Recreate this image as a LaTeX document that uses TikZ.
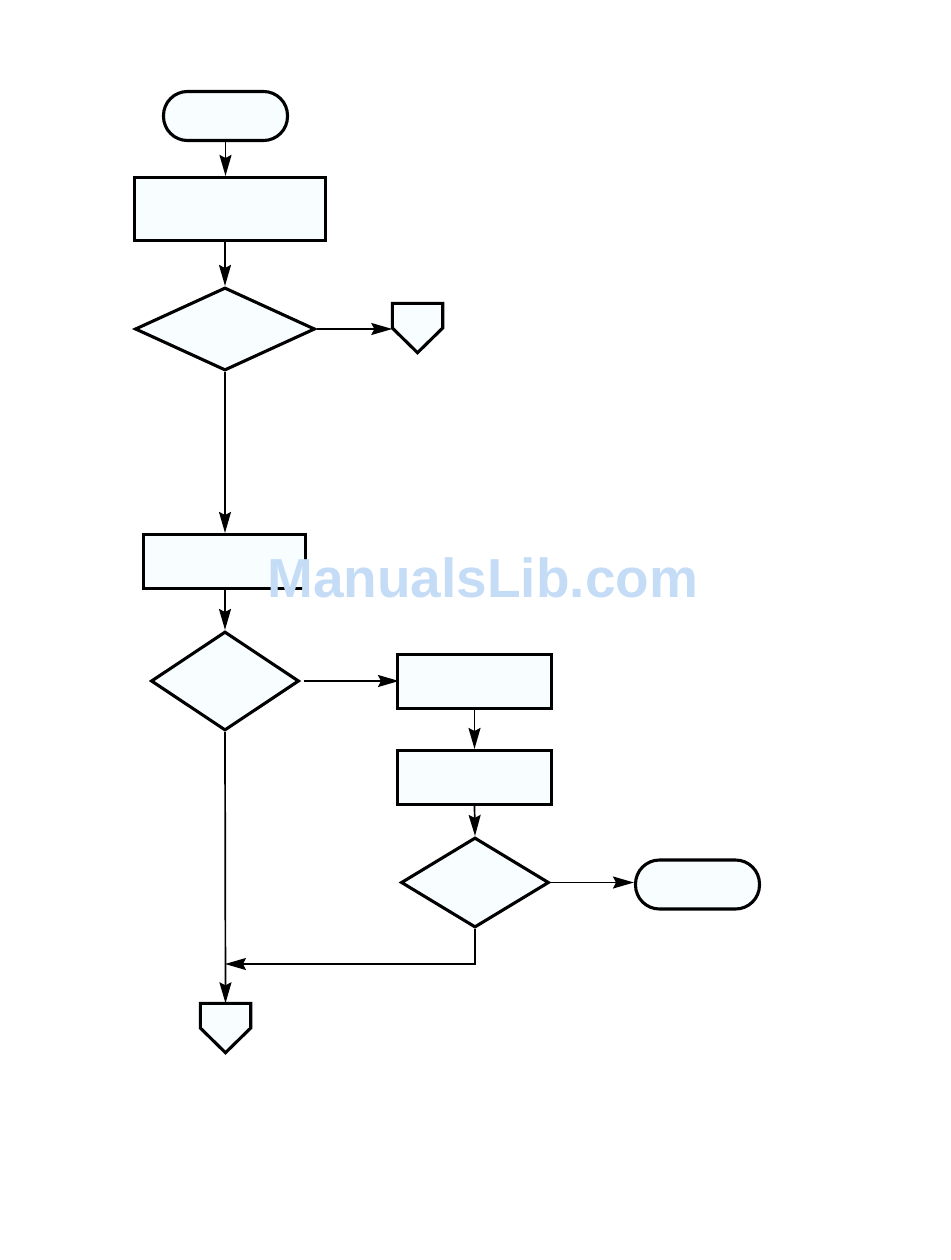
\documentclass[tikz,border=0pt]{standalone}
\usepackage{fontspec}
\setsansfont{Liberation Sans}
\usetikzlibrary{shapes.geometric,arrows.meta}
\definecolor{shapefill}{RGB}{248,253,255}
\definecolor{wmark}{RGB}{197,220,246}
\tikzset{
  shapeline/.style={draw=black,line width=3.1pt,fill=shapefill,line join=miter},
  procbox/.style={shapeline,rectangle,inner sep=0pt},
  termbox/.style={shapeline,rectangle,rounded corners=24pt,inner sep=0pt,minimum width=124,minimum height=49},
  decbox/.style={shapeline,diamond,inner sep=0pt},
  offref/.style={inner sep=0pt,minimum width=50,minimum height=49},
  flow/.style={draw=black,line width=1.7pt,-{Stealth[length=21pt,width=12pt,inset=3pt]}},
  plainflow/.style={draw=black,line width=1.7pt}
}
\begin{document}
\begin{tikzpicture}[x=1pt,y=-1pt]
\useasboundingbox (0,0) rectangle (950,1260);
% nodes
\node[termbox] (start) at (225.5,116) {};
\node[procbox,minimum width=191,minimum height=63] (b1) at (230,209) {};
\node[decbox,minimum width=180,minimum height=83] (d1) at (225,329) {};
\node[offref] (o1) at (417.5,328) {};
\draw[shapeline] (o1.north west) -- (o1.north east) -- (o1.east) -- (o1.south) -- (o1.west) -- cycle;
\node[procbox,minimum width=162,minimum height=54] (b2) at (224.5,561.5) {};
\node[decbox,minimum width=148,minimum height=99] (d2) at (225,681) {};
\node[procbox,minimum width=154,minimum height=54] (b3) at (474.5,681.5) {};
\node[procbox,minimum width=154,minimum height=54] (b4) at (474.5,777.5) {};
\node[decbox,minimum width=148,minimum height=90] (d3) at (475,882.5) {};
\node[termbox] (stop) at (697.5,884.5) {};
\node[offref] (o2) at (225.5,1028) {};
\draw[shapeline] (o2.north west) -- (o2.north east) -- (o2.east) -- (o2.south) -- (o2.west) -- cycle;
\coordinate (merge) at (225,964);
% connectors
\draw[flow] (start.south) -- (start.south |- b1.north);
\draw[flow] (d1.north |- b1.south) -- (d1.north);
\draw[flow] (d1.east) -- (d1.east -| o1.west);
\draw[flow] (d1.south) -- (d1.south |- b2.north);
\draw[flow] (d2.north |- b2.south) -- (d2.north);
\draw[flow] ([xshift=3pt]d2.east) -- ([xshift=3pt]d2.east -| b3.west);
\draw[flow] (b3.south) -- (b4.north);
\draw[flow] (b4.south) -- (d3.north);
\draw[flow] (d3.east) -- (d3.east -| stop.west);
\draw[flow] (d3.south) |- (merge);
\draw[flow] (d2.south) -- (o2.north);
% watermark
\node[text=wmark,font=\sffamily\bfseries\fontsize{55}{55}\selectfont,inner sep=0pt,anchor=base west] (wm) at (267,597) {ManualsLib.com};
\end{tikzpicture}
\end{document}
